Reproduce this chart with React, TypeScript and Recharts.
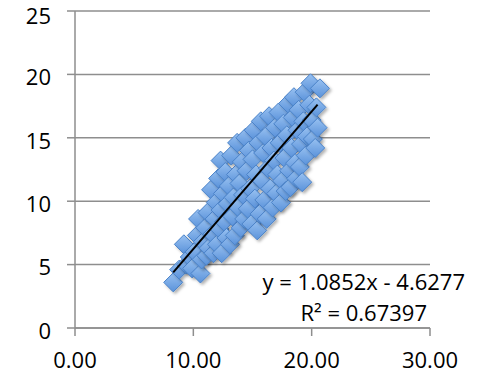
import { ScatterChart, Scatter, XAxis, YAxis, CartesianGrid, Customized } from "recharts";

// observed points (x, y)
const xs = [
  8.3, 8.8, 9.2, 9.4, 9.7, 9.9, 10.1, 10.3, 10.4, 10.6, 10.7, 10.8, 11.0, 11.1, 11.2, 11.3,
  11.5, 11.6, 11.7, 11.8, 11.9, 12.0, 12.1, 12.2, 12.3, 12.3, 12.4, 12.5, 12.6, 12.7, 12.8,
  12.9, 13.0, 13.1, 13.2, 13.3, 13.4, 13.5, 13.6, 13.7, 13.8, 13.9, 14.0, 14.1, 14.2, 14.3,
  14.4, 14.5, 14.6, 14.7, 14.8, 14.9, 15.0, 15.1, 15.2, 15.3, 15.4, 15.5, 15.6, 15.7, 15.8,
  15.9, 16.0, 16.1, 16.2, 16.3, 16.4, 16.5, 16.6, 16.7, 16.8, 16.9, 17.0, 17.1, 17.2, 17.3,
  17.4, 17.5, 17.6, 17.7, 17.8, 17.9, 18.0, 18.1, 18.2, 18.3, 18.4, 18.5, 18.6, 18.7, 18.8,
  18.9, 19.0, 19.1, 19.2, 19.3, 19.4, 19.5, 19.6, 19.8, 19.9, 20.0, 20.1, 20.3, 20.4, 20.5,
  20.7,
];
const ys = [
  3.6, 4.6, 6.6, 5.0, 5.6, 4.7, 6.0, 7.3, 8.6, 4.3, 5.4, 6.8, 7.9, 5.7, 9.1, 6.3,
  10.9, 7.4, 5.9, 8.6, 9.9, 6.6, 11.8, 7.8, 13.2, 9.3, 5.9, 10.6, 8.4, 12.3, 7.1,
  9.8, 11.2, 6.6, 13.6, 8.8, 10.3, 7.3, 12.1, 14.6, 9.5, 11.4, 7.9, 13.1, 10.5, 8.6,
  15.0, 12.4, 9.4, 14.0, 11.0, 8.2, 13.3, 15.6, 10.2, 12.1, 7.7, 14.6, 9.0, 16.3, 11.6,
  13.8, 10.1, 15.1, 8.6, 12.6, 16.7, 11.0, 14.2, 9.5, 13.2, 15.8, 10.6, 12.1, 17.0, 14.6,
  9.9, 11.6, 16.1, 13.4, 10.8, 15.2, 17.7, 12.4, 11.1, 14.2, 16.6, 18.2, 13.0, 11.8, 15.6,
  17.2, 12.7, 14.5, 11.5, 16.3, 18.6, 13.6, 15.1, 17.6, 19.3, 16.4, 14.9, 14.2, 17.4, 15.8,
  18.9,
];

// linear trendline end points
const trendX = [8.3, 20.5];
const trendY = [4.38, 17.62];

const xTicks = [0, 10, 20, 30];
const yTicks = [0, 5, 10, 15, 20, 25];
const equation = "y = 1.0852x - 4.6277";
const rSquared = "R² = 0.67397";

const points = xs.map((x, i) => ({ x, y: ys[i] }));
const trend = trendX.map((x, i) => ({ x, y: trendY[i] }));

const font = "'Open Sans', sans-serif";
const grey = "#8e8e8e";

const Diamond = (props: any) => {
  const { cx, cy } = props;
  const r = 9.5;
  return (
    <path
      d={`M${cx},${cy - r}L${cx + r},${cy}L${cx},${cy + r}L${cx - r},${cy}Z`}
      fill="url(#mk)"
      stroke="#4a82c8"
      strokeWidth={1}
      filter="url(#sh)"
    />
  );
};

const TrendLabel = () => (
  <g fontFamily={font} fontSize={22} fill="#000" textAnchor="end">
    <text x={465} y={290}>{equation}</text>
    <text x={427} y={321}>{rSquared}</text>
  </g>
);

export default function App() {
  return (
    <div style={{ position: "absolute", left: 0, top: 0, background: "#fff" }}>
      <ScatterChart width={481} height={375} margin={{ top: 11, right: 51, bottom: 0, left: 0 }}>
        <defs>
          <linearGradient id="mk" x1="0" y1="0" x2="0" y2="1">
            <stop offset="0%" stopColor="#98c1f1" />
            <stop offset="100%" stopColor="#5a92da" />
          </linearGradient>
          <filter id="sh" x="-50%" y="-50%" width="200%" height="200%">
            <feDropShadow dx="2" dy="2" stdDeviation="1.5" floodColor="#000" floodOpacity="0.3" />
          </filter>
        </defs>
        <CartesianGrid vertical={false} stroke={grey} strokeWidth={1.5} />
        <XAxis
          type="number"
          dataKey="x"
          domain={[0, 30]}
          ticks={xTicks}
          tickFormatter={(v: number) => v.toFixed(2)}
          height={47}
          axisLine={{ stroke: grey, strokeWidth: 1.5 }}
          tickLine={{ stroke: grey, strokeWidth: 1.5 }}
          tickSize={8}
          tickMargin={16}
          tick={{ fontSize: 22, fill: "#000", fontFamily: font }}
        />
        <YAxis
          type="number"
          dataKey="y"
          domain={[0, 25]}
          ticks={yTicks}
          width={75}
          axisLine={{ stroke: grey, strokeWidth: 1.5 }}
          tickLine={{ stroke: grey, strokeWidth: 1.5 }}
          tickSize={8}
          tickMargin={16}
          tick={{ fontSize: 22, fill: "#000", fontFamily: font, dy: 3 }}
        />
        <Scatter data={points} shape={Diamond} isAnimationActive={false} />
        <Scatter
          data={trend}
          line={{ stroke: "#000", strokeWidth: 2 }}
          shape={() => <g />}
          isAnimationActive={false}
        />
        <Customized component={TrendLabel} />
      </ScatterChart>
    </div>
  );
}
